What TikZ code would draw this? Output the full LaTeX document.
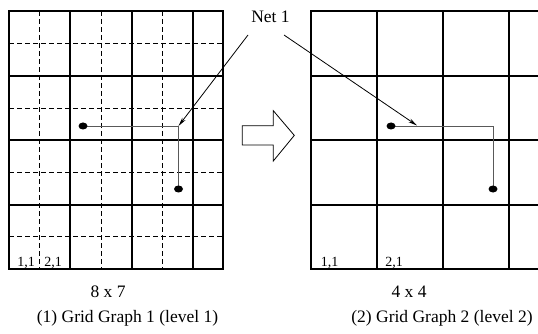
\documentclass[tikz,border=0pt]{standalone}
\usepackage{fontspec}
\setmainfont{Liberation Serif}
\usetikzlibrary{arrows.meta}
\tikzset{capt/.style={font=\fontsize{17.5}{20}\selectfont,anchor=base,inner sep=0pt},
  cellno/.style={font=\fontsize{14}{16}\selectfont,anchor=base,inner sep=0pt},
  coarse/.style={line width=2pt},
  fine/.style={line width=0.8pt,dash pattern=on 5pt off 3pt},
  wire/.style={line width=0.9pt,black!65}}

\begin{document}
\begin{tikzpicture}[x=1pt,y=-1pt,>={Stealth[length=9pt,width=4pt]},line join=miter]
\useasboundingbox (0,0) rectangle (538,334);
\clip (0,0) rectangle (538,334);
% --- (1) grid graph 1, 8 x 7
\begin{scope}
\foreach \x in {39.5,101,162.5} \draw[fine] (\x,11) -- (\x,269);
\foreach \y in {43.5,108,172.5,236.5} \draw[fine] (9,\y) -- (223,\y);
\foreach \x in {9,70,132,193,223} \draw[coarse] (\x,11) -- (\x,269);
\foreach \y in {11,76,140,205,269} \draw[coarse] (8,\y) -- (224,\y);
\node[cellno] (c11a) at (26,266.5) {1,1};
\node[cellno] (c21a) at (53,266.5) {2,1};
\coordinate (srcA) at (83,126);
\coordinate (bendA) at (178.5,126);
\coordinate (dstA) at (178.5,189);
\draw[wire] (srcA) -- (bendA) -- (dstA);
\fill (srcA) ellipse (4.5 and 3.5);
\fill (dstA) ellipse (4.5 and 3.5);
\node[capt] (sizeA) at (108,297.5) {8 x 7};
\node[capt] (captA) at (127.5,322) {(1) Grid Graph 1 (level 1)};
\end{scope}
% --- (2) grid graph 2, 4 x 4
\begin{scope}
\foreach \x in {311,377,443,509,575} \draw[coarse] (\x,11) -- (\x,269);
\foreach \y in {11,76,140,205,269} \draw[coarse] (310,\y) -- (576,\y);
\node[cellno] (c11b) at (329.5,266.5) {1,1};
\node[cellno] (c21b) at (394,266.5) {2,1};
\coordinate (srcB) at (391,126);
\coordinate (hitB) at (417,125.5);
\coordinate (bendB) at (493,126);
\coordinate (dstB) at (493,189);
\draw[wire] (srcB) -- (bendB) -- (dstB);
\fill (srcB) ellipse (4.5 and 3.5);
\fill (dstB) ellipse (4.5 and 3.5);
\node[capt] (sizeB) at (409,297.5) {4 x 4};
\node[capt] (captB) at (442,322) {(2) Grid Graph 2 (level 2)};
\end{scope}
% --- coarsening arrow
\draw[line width=0.8pt] (242.3,125.7) -- (273.3,125.7) -- (273.3,110.7) -- (294.3,135.4)
  -- (273.3,161) -- (273.3,145) -- (242.3,145) -- cycle;
% --- net label
\node[capt] (net) at (270.5,23) {Net 1};
\coordinate (netL) at (248,35);
\coordinate (netR) at (284,35);
\draw[->,line width=0.8pt] (netL) -- (bendA);
\draw[->,line width=0.8pt] (netR) -- (hitB);
\end{tikzpicture}
\end{document}
